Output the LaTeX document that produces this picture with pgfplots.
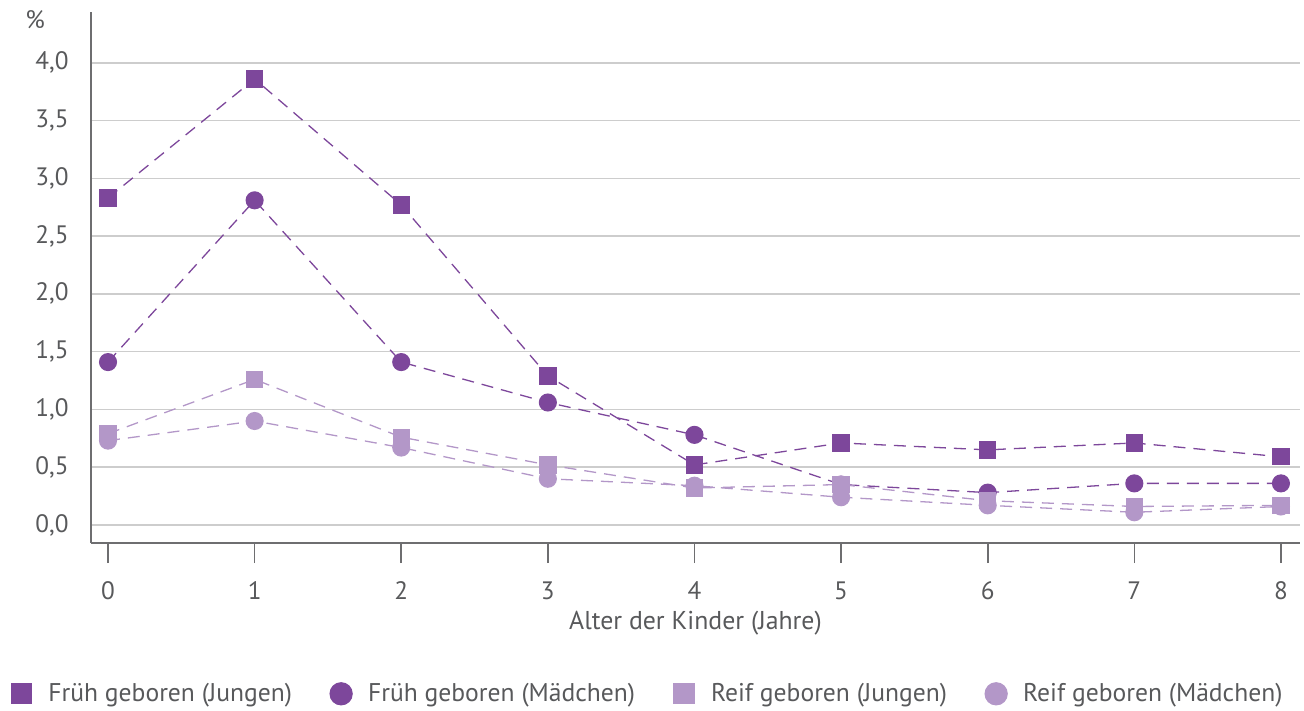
\documentclass[border=0pt]{standalone}
\usepackage{pgfplots}
\pgfplotsset{compat=1.18}
\usepackage{fontspec}
\setmainfont{PT Sans}
\definecolor{dark}{RGB}{125,71,155}
\definecolor{light}{RGB}{179,151,200}
\definecolor{txt}{RGB}{88,89,91}
\definecolor{axl}{RGB}{110,110,112}
\definecolor{grd}{RGB}{205,205,205}
\begin{document}
\fontsize{12bp}{14bp}\selectfont
\begin{tikzpicture}
\path[use as bounding box] (0,0) rectangle (652bp,355.5bp);
\begin{axis}[
  at={(45.5bp,84bp)}, anchor=south west,
  scale only axis, width=604.5bp, height=265.5bp,
  xmin=-0.116, xmax=8.13, ymin=-0.156, ymax=4.44,
  axis x line*=bottom, axis y line*=left,
  axis line style={axl, line width=0.8bp},
  xtick={0,...,8}, ytick={0,0.5,...,4},
  tick align=outside, major tick length=10bp,
  xtick style={axl, line width=0.8bp},
  ytick style={draw=none},
  ymajorgrids, grid style={grd, line width=0.8bp},
  /pgf/number format/assume math mode=true,
  yticklabel style={/pgf/number format/use comma, /pgf/number format/fixed, /pgf/number format/fixed zerofill, /pgf/number format/precision=1, xshift=3bp},
  xticklabel style={yshift=-5bp},
  ticklabel style={font=\fontsize{12.6bp}{14bp}\selectfont, text=txt},
  xlabel={Alter der Kinder (Jahre)},
  xlabel style={font=\fontsize{12.9bp}{14bp}\selectfont, text=txt, yshift=2.5bp},
  legend columns=4,
  legend style={draw=none, fill=none, at={(-0.067,-0.284)}, anchor=west, inner sep=0pt,
    font=\fontsize{12.8bp}{15bp}\selectfont, text=txt,
    /tikz/every even column/.append style={column sep=17bp}},
  legend cell align=left,
  legend image code/.code={\path[draw=none] (-5.5bp,0) (11.5bp,0); \draw[#1, solid] plot coordinates {(0bp,0bp)};},
  clip=false,
]
\addplot[dark, line width=0.65bp, dash pattern=on 6bp off 4bp, mark=square*, mark size=4bp, mark options={solid, fill=dark, draw=dark}, legend image post style={mark size=5bp}]
 coordinates {(0,2.83) (1,3.86) (2,2.77) (3,1.29) (4,0.52) (5,0.71) (6,0.65) (7,0.71) (8,0.59)};
\addlegendentry{Früh geboren (Jungen)}
\addplot[dark, line width=0.65bp, dash pattern=on 6bp off 4bp, mark=*, mark size=4.2bp, mark options={solid, fill=dark, draw=dark}, legend image post style={mark size=5.5bp}]
 coordinates {(0,1.41) (1,2.81) (2,1.41) (3,1.06) (4,0.78) (5,0.35) (6,0.28) (7,0.36) (8,0.36)};
\addlegendentry{Früh geboren (Mädchen)}
\addplot[light, line width=0.65bp, dash pattern=on 6bp off 4bp, mark=square*, mark size=4bp, mark options={solid, fill=light, draw=light}, legend image post style={mark size=5bp}]
 coordinates {(0,0.79) (1,1.26) (2,0.76) (3,0.52) (4,0.32) (5,0.35) (6,0.21) (7,0.16) (8,0.17)};
\addlegendentry{Reif geboren (Jungen)}
\addplot[light, line width=0.65bp, dash pattern=on 6bp off 4bp, mark=*, mark size=4.2bp, mark options={solid, fill=light, draw=light}, legend image post style={mark size=5.5bp}]
 coordinates {(0,0.73) (1,0.90) (2,0.67) (3,0.40) (4,0.34) (5,0.24) (6,0.17) (7,0.11) (8,0.16)};
\addlegendentry{Reif geboren (Mädchen)}
\node[text=txt, font=\fontsize{12.6bp}{14bp}\selectfont] at ([xshift=-28bp,yshift=-4bp]rel axis cs:0,1) {\%};
\end{axis}
\end{tikzpicture}
\end{document}
